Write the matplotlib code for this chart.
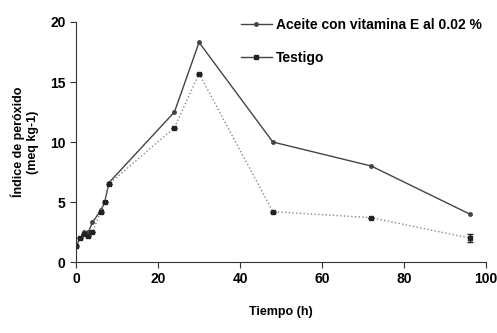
import matplotlib.pyplot as plt
from matplotlib import font_manager

# tiempos de muestreo (h) e índice de peróxido (meq kg-1)
tiempo = [0, 1, 2, 3, 4, 6, 7, 8, 24, 30, 48, 72, 96]
vitamina_e = [1.3, 2.0, 2.5, 2.5, 3.3, 4.3, 5.0, 6.6, 12.5, 18.3, 10.0, 8.0, 4.0]
testigo = [1.3, 2.0, 2.3, 2.2, 2.5, 4.2, 5.0, 6.5, 11.2, 15.7, 4.2, 3.7, 2.0]
err_testigo = [0, 0, 0, 0, 0, 0, 0, 0, 0, 0, 0, 0, 0.3]

nombres = {f.name for f in font_manager.fontManager.ttflist}
fuente = 'Liberation Sans Narrow' if 'Liberation Sans Narrow' in nombres else 'Liberation Sans'
plt.rcParams['font.family'] = [fuente, 'DejaVu Sans']
plt.rcParams['font.weight'] = 'bold'

fig = plt.figure(figsize=(4.97, 3.33), dpi=100)
ax = fig.add_axes([0.153, 0.213, 0.825, 0.721])

ax.plot(tiempo, vitamina_e, color='#444444', lw=1.0, marker='o', ms=2.5,
        label='Aceite con vitamina E al 0.02 %')
ax.plot(tiempo, testigo, color='#888888', lw=1.0, ls=':',
        marker='s', ms=2.5, mfc='#222222', mec='#222222', label='Testigo')
ax.errorbar(tiempo, testigo, yerr=err_testigo, fmt='none', ecolor='#222222',
            lw=1.0, capsize=2)

ax.set_xlim(0, 100)
ax.set_ylim(0, 20)
ax.set_xticks([0, 20, 40, 60, 80, 100])
ax.set_yticks([0, 5, 10, 15, 20])
ax.spines['top'].set_visible(False)
ax.spines['right'].set_visible(False)
ax.spines['left'].set_color('#333333')
ax.spines['bottom'].set_color('#333333')
ax.tick_params(labelsize=10, length=4, color='#333333')
for lbl in ax.get_xticklabels() + ax.get_yticklabels():
    lbl.set_fontweight('bold')

ax.set_xlabel('Tiempo (h)', fontsize=9, fontweight='bold', labelpad=14)
ax.set_ylabel('Índice de peróxido\n(meq kg-1)', fontsize=9, fontweight='bold', labelpad=8)

leg = ax.legend(loc='upper right', bbox_to_anchor=(1.02, 1.07), frameon=False,
                fontsize=10, handlelength=2.2, labelspacing=1.4, handletextpad=0.3)
for h in leg.get_lines():
    h.set_linestyle('-')
    h.set_color('#444444')

fig.savefig('out.png', dpi=100)
